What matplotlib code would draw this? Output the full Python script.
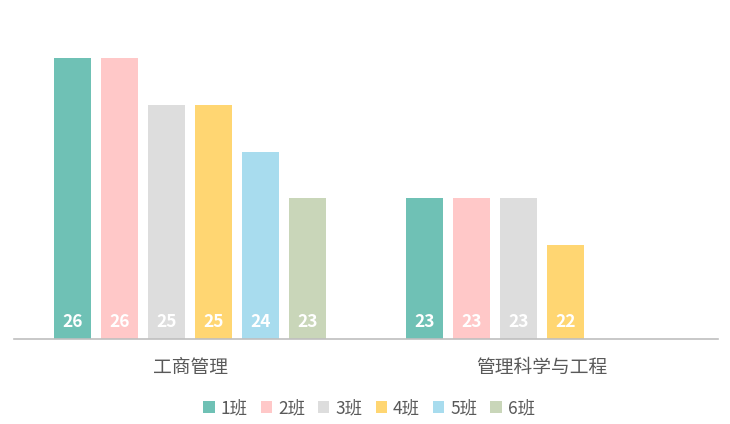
import matplotlib
matplotlib.use("Agg")
import matplotlib.pyplot as plt
import numpy as np

plt.rcParams['font.family'] = ['Noto Sans CJK SC', 'DejaVu Sans']

categories = ["工商管理", "管理科学与工程"]
series_names = ["1班", "2班", "3班", "4班", "5班", "6班"]
values = {
    "1班": [26, 23],
    "2班": [26, 23],
    "3班": [25, 23],
    "4班": [25, 22],
    "5班": [24, None],
    "6班": [23, None],
}
colors = ["#6FC1B5", "#FFC8C8", "#DDDDDD", "#FFD672", "#A8DCEE", "#C9D6B9"]

fig = plt.figure(figsize=(7.3, 4.24), dpi=100)
ax = fig.add_axes([14/730, 1 - 339/424, 704/730, 328/424])

x = np.arange(len(categories))
step = 47/352
width = 37/352
base = 20
handles = []
for i, name in enumerate(series_names):
    vals = values[name]
    xs = [x[j] + (i - 2.5) * step for j in range(len(vals)) if vals[j] is not None]
    vs = [v for v in vals if v is not None]
    bars = ax.bar(xs, [v - base for v in vs], width=width, bottom=base,
                  color=colors[i], label=name, linewidth=0)
    handles.append(bars)
    for xi, v in zip(xs, vs):
        ax.text(xi, base + 0.36, str(v), ha='center', va='center',
                color='white', fontsize=12.5, fontweight='bold')

ax.set_xlim(-0.5, 1.5)
ax.set_ylim(base, 27)
ax.set_yticks([])
ax.set_xticks(x)
ax.set_xticklabels(categories, fontsize=13.5, color='#595959')
ax.tick_params(axis='x', length=0, pad=13)
for s in ['top', 'right', 'left']:
    ax.spines[s].set_visible(False)
ax.spines['bottom'].set_color('#BFBFBF')
ax.spines['bottom'].set_linewidth(1.2)

leg = fig.legend(handles=handles, labels=series_names, loc='center',
                 bbox_to_anchor=(0.5 + 4/730, 1 - 408/424), ncol=6, frameon=False,
                 fontsize=12.5, handlelength=0.65, handleheight=0.65,
                 handletextpad=0.35, columnspacing=0.75)
for t in leg.get_texts():
    t.set_color('#595959')

fig.savefig("out.png", dpi=100)
